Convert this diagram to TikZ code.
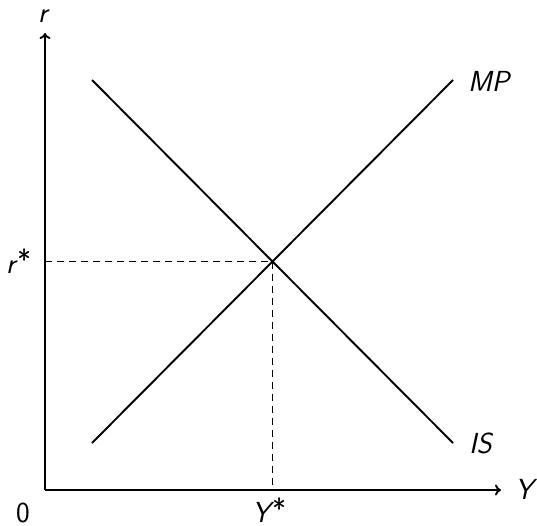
\documentclass[tikz,border=0pt]{standalone}
\usetikzlibrary{arrows.meta}
\begin{document}
\begin{tikzpicture}[x=1pt,y=-1pt,
  axis/.style={line width=1.9pt,-{To[length=6pt,width=11pt]}},
  curve/.style={line width=1.9pt},
  guide/.style={line width=1.9pt,dash pattern=on 7pt off 5pt},
  lbl/.style={inner sep=0pt,anchor=base west,font=\fontsize{29}{32}\selectfont\sffamily\itshape},
  num/.style={inner sep=0pt,anchor=base west,font=\fontsize{29}{32}\selectfont\sffamily}]
\useasboundingbox (0,0) rectangle (537,525);
\coordinate (O) at (45,490);
\coordinate (ytop) at (45,33);
\coordinate (xend) at (501,490);
\coordinate (IS1) at (92,80);
\coordinate (IS2) at (453,443);
\coordinate (MP1) at (92,443);
\coordinate (MP2) at (453,80);
\coordinate (E) at (272.5,261.5);
\coordinate (Ey) at (45,261.5);
\coordinate (Ex) at (272.5,490);
\draw[axis] (O) -- (ytop);
\draw[axis] (O) -- (xend);
\draw[curve] (IS1) -- (IS2);
\draw[curve] (MP1) -- (MP2);
\draw[guide] (Ey) -- (E);
\draw[guide] (E) -- (Ex);
\node[lbl] (lr) at (38,22) {r};
\node[lbl] (lY) at (515,499) {Y};
\node[num] (l0) at (16,522) {0};
\node[lbl] (lrs) at (6,273) {r\kern2pt\raisebox{3pt}{\upshape*}};
\node[lbl] (lYs) at (252,522) {Y\kern2pt\raisebox{3pt}{\upshape*}};
\node[lbl] (lMP) at (468,91) {MP};
\node[lbl] (lIS) at (469,453) {IS};
\end{tikzpicture}
\end{document}
